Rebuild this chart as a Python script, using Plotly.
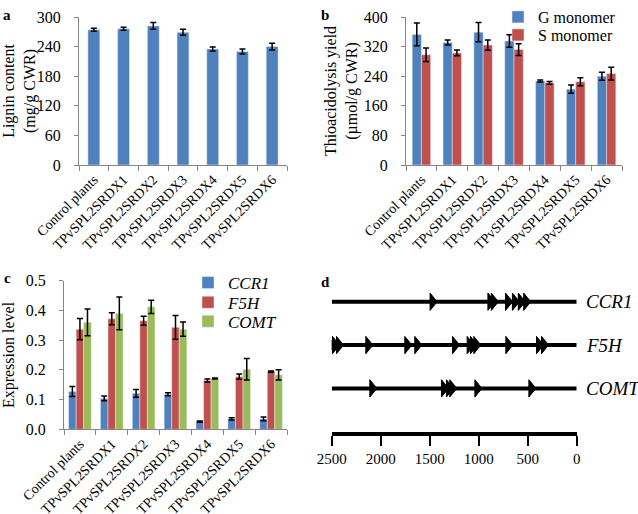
import plotly.graph_objects as go

# ---- data ----
categories = ["Control plants", "TPvSPL2SRDX1", "TPvSPL2SRDX2", "TPvSPL2SRDX3",
              "TPvSPL2SRDX4", "TPvSPL2SRDX5", "TPvSPL2SRDX6"]

lignin = [274, 276, 282, 269, 235, 230, 240]
lignin_err = [3, 3, 7, 6, 4, 5, 7]

g_monomer = [353, 331, 359, 335, 227, 205, 240]
g_err = [31, 7, 26, 17, 3, 11, 11]
s_monomer = [298, 303, 324, 312, 222, 225, 247]
s_err = [18, 8, 14, 16, 4, 11, 17]

ccr1 = [0.127, 0.104, 0.121, 0.118, 0.026, 0.035, 0.035]
ccr1_err = [0.017, 0.008, 0.013, 0.005, 0.002, 0.004, 0.006]
f5h = [0.337, 0.372, 0.365, 0.343, 0.164, 0.177, 0.194]
f5h_err = [0.036, 0.020, 0.015, 0.040, 0.005, 0.009, 0.002]
comt = [0.360, 0.390, 0.412, 0.337, 0.171, 0.202, 0.183]
comt_err = [0.045, 0.055, 0.022, 0.024, 0.002, 0.036, 0.017]

# promoter elements (bp upstream)
genes = ["CCR1", "F5H", "COMT"]
gene_rows = [3, 2, 1]
elements = {
    "CCR1": [1460, 870, 835, 690, 620, 560, 505],
    "F5H": [2500, 2456, 2415, 2116, 1718, 1616, 1231, 1082, 1048, 1014, 687, 374, 323],
    "COMT": [2075, 1344, 1293, 1259, 1003, 452],
}
promoter_len = 2500
scale_ticks = [2500, 2000, 1500, 1000, 500, 0]

BLUE = "#4F81BD"
RED = "#C0504D"
GREEN = "#9BBB59"
FONT = "Liberation Serif"
W, H = 638, 514


def fx(p):
    return p / W


def fy(p):
    return 1 - p / H


def font(size, color="black"):
    return dict(family=FONT, size=size, color=color)


def err(arr):
    return dict(type="data", array=arr, color="black", thickness=1.5, width=3)


fig = go.Figure()

# a
fig.add_trace(go.Bar(x=categories, y=lignin, error_y=err(lignin_err), marker_color=BLUE,
                     width=0.4, offset=-0.2,
                     xaxis="x", yaxis="y", showlegend=False))
# b
fig.add_trace(go.Bar(x=categories, y=g_monomer, error_y=err(g_err), marker_color=BLUE,
                     width=0.3, offset=-0.3,
                     name="G monomer", xaxis="x2", yaxis="y2", legend="legend"))
fig.add_trace(go.Bar(x=categories, y=s_monomer, error_y=err(s_err), marker_color=RED,
                     width=0.3, offset=0.0,
                     name="S monomer", xaxis="x2", yaxis="y2", legend="legend2"))
# c
cw = 0.237
for vals, errs, col, nm, k, lg in [(ccr1, ccr1_err, BLUE, "CCR1", -1, "legend3"),
                                   (f5h, f5h_err, RED, "F5H", 0, "legend4"),
                                   (comt, comt_err, GREEN, "COMT", 1, "legend5")]:
    fig.add_trace(go.Bar(x=categories, y=vals, error_y=err(errs), marker_color=col,
                         width=cw, offset=k * cw - cw / 2,
                         name=f"<i>{nm}</i>", xaxis="x3", yaxis="y3", legend=lg))

# d - promoter lines and element triangles
aw = 36   # half width of triangle in bp
ah = 0.2  # half height in row units
for g, row in zip(genes, gene_rows):
    fig.add_trace(go.Scatter(x=[promoter_len, 0], y=[row, row], mode="lines",
                             line=dict(color="black", width=4),
                             xaxis="x4", yaxis="y4", showlegend=False))
    tx, ty = [], []
    for p in elements[g]:
        tx += [p + aw, p + aw, p - aw, p + aw, None]
        ty += [row + ah, row - ah, row, row + ah, None]
    fig.add_trace(go.Scatter(x=tx, y=ty, mode="lines", fill="toself", fillcolor="black",
                             line=dict(color="black", width=1),
                             xaxis="x4", yaxis="y4", showlegend=False))

cat_x = dict(type="category", showline=True, linecolor="#868686", linewidth=1,
             ticks="outside", tickson="boundaries", ticklen=5, tickcolor="#868686",
             tickangle=-45, tickfont=font(14), showgrid=False, automargin=False)
val_y = dict(showline=True, linecolor="#868686", linewidth=1, ticks="outside", ticklen=4,
             tickcolor="#868686", tickfont=font(16), ticklabelstandoff=10,
             showgrid=False, zeroline=False, automargin=False)


def leg(x, y, size, shift):
    # y is the wanted centre of the single legend row
    return dict(x=fx(x), y=fy(y - shift), xanchor="left", yanchor="top", font=font(size),
                bgcolor="rgba(0,0,0,0)", tracegroupgap=0, borderwidth=0)


fig.update_layout(
    width=W, height=H, margin=dict(l=0, r=0, t=0, b=0),
    plot_bgcolor="white", paper_bgcolor="white",
    font=font(14),
    xaxis=dict(domain=[fx(79), fx(287)], anchor="y", **cat_x),
    yaxis=dict(domain=[fy(165), fy(17)], anchor="x", range=[0, 300], dtick=60,
               title=dict(text="Lignin content<br>(mg/g CWR)", font=font(16), standoff=4),
               **val_y),
    xaxis2=dict(domain=[fx(406), fx(622)], anchor="y2", **cat_x),
    yaxis2=dict(domain=[fy(165), fy(17)], anchor="x2", range=[0, 400], dtick=80,
                title=dict(text="Thioacidolysis yield<br>(µmol/g CWR)", font=font(16), standoff=2),
                **val_y),
    xaxis3=dict(domain=[fx(64), fx(287)], anchor="y3", **cat_x),
    yaxis3=dict(domain=[fy(429.3), fy(280.7)], anchor="x3", range=[0, 0.5], dtick=0.1,
                tickformat=".1f",
                title=dict(text="Expression level", font=font(16), standoff=8),
                **val_y),
    xaxis4=dict(domain=[fx(331.7), fx(576.7)], anchor="y4", range=[promoter_len, 0],
                tickvals=scale_ticks, showline=True, linecolor="black", linewidth=4,
                ticks="outside", ticklen=10, tickwidth=1.5, tickcolor="black",
                tickfont=font(15), showgrid=False, zeroline=False, automargin=False),
    yaxis4=dict(domain=[fy(431.7), fy(284.4)], anchor="x4", range=[0, 3.4],
                visible=False, showgrid=False, zeroline=False, automargin=False),
    barmode="overlay",
    legend=leg(498, 16.7, 16, 17),
    legend2=leg(498, 35, 16, 17),
    legend3=leg(188, 283, 17, 18),
    legend4=leg(188, 302.7, 17, 18),
    legend5=leg(188, 321.7, 17, 18),
)

# gene labels and panel letters
for g, row in zip(genes, gene_rows):
    fig.add_annotation(x=fx(584), y=row, xref="paper", yref="y4", text=f"<i>{g}</i>",
                       showarrow=False, xanchor="left", yanchor="middle", font=font(19))
for letter, x, y in [("a", 7, 15), ("b", 325, 15), ("c", 7, 278), ("d", 325, 282)]:
    fig.add_annotation(x=fx(x), y=fy(y), xref="paper", yref="paper", text=f"<b>{letter}</b>",
                       showarrow=False, xanchor="center", yanchor="middle", font=font(15))

# drop the browser's default 8px body margin so the figure sits at the page corner
fig.write_html("out.html", config={"displayModeBar": False},
               post_script="document.body.style.margin='0';")
